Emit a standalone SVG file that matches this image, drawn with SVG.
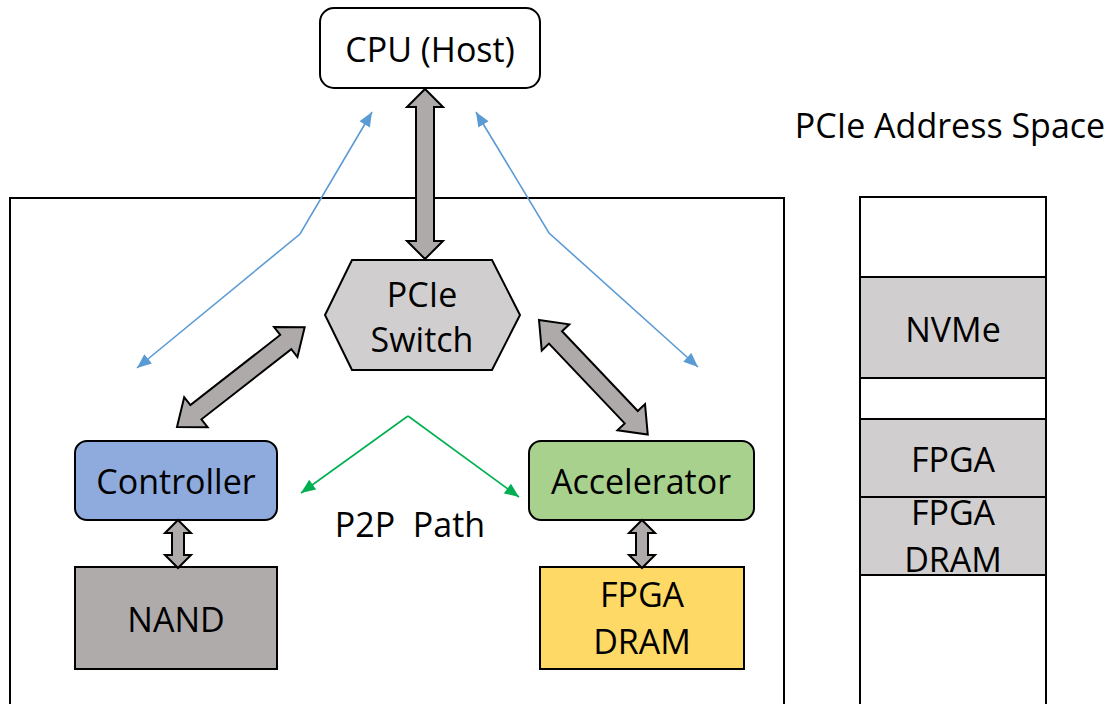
<svg xmlns="http://www.w3.org/2000/svg" width="1109" height="704" viewBox="0 0 1109 704">
<defs>
<style>
text{font-family:"Open Sans","Liberation Sans",sans-serif;font-size:34px;fill:#000;text-anchor:middle}
.bx{stroke:#000;stroke-width:2}
.th{fill:#aeaaaa;stroke:#000;stroke-width:2;stroke-linejoin:miter}
.blue{fill:none;stroke:#5b9bd5;stroke-width:1.6}
.green{fill:none;stroke:#00b050;stroke-width:1.6}
</style>
<marker id="mb" viewBox="0 0 12 10" refX="12" refY="5" markerWidth="15" markerHeight="12" markerUnits="userSpaceOnUse" orient="auto-start-reverse"><path d="M0,0L12,5L0,10z" fill="#5b9bd5"/></marker>
<marker id="mg" viewBox="0 0 12 10" refX="12" refY="5" markerWidth="15" markerHeight="12" markerUnits="userSpaceOnUse" orient="auto"><path d="M0,0L12,5L0,10z" fill="#00b050"/></marker>
</defs>
<rect width="1109" height="704" fill="#fff"/>
<g id="board"><rect x="10" y="198" width="774" height="520" fill="none" class="bx"/></g>
<g id="cpu"><rect x="320" y="8" width="220" height="80" rx="14" fill="#fff" class="bx"/><text x="430" y="62">CPU (Host)</text></g>
<g id="switch"><polygon points="352,260 492,260 520,315 492,370 352,370 325,315" fill="#d0cece" class="bx"/><text x="422" y="307">PCIe</text><text x="422" y="352">Switch</text></g>
<g id="controller"><rect x="75" y="441" width="202" height="79" rx="12" fill="#8faadc" class="bx"/><text x="176" y="494">Controller</text></g>
<g id="accelerator"><rect x="529" y="441" width="225" height="79" rx="12" fill="#a9d18e" class="bx"/><text x="641" y="494">Accelerator</text></g>
<g id="nand"><rect x="75" y="567" width="202" height="102" fill="#afabab" class="bx"/><text x="176" y="632">NAND</text></g>
<g id="fpgadram"><rect x="540" y="567" width="204" height="102" fill="#ffd966" class="bx"/><text x="642" y="607">FPGA</text><text x="642" y="654">DRAM</text></g>
<g id="addrspace">
<text x="950" y="138">PCIe Address Space</text>
<rect x="860" y="197" width="186" height="520" fill="#fff" class="bx"/>
<rect x="860" y="277" width="186" height="101" fill="#d0cece" class="bx"/><text x="953" y="342">NVMe</text>
<rect x="860" y="419" width="186" height="78" fill="#d0cece" class="bx"/><text x="953" y="472">FPGA</text>
<rect x="860" y="497" width="186" height="78" fill="#d0cece" class="bx"/><text x="953" y="525">FPGA</text><text x="953" y="572">DRAM</text>
</g>
<g id="connectors">
<polygon class="th" points="425,89 443,107 434,107 434,241 443,241 425,259 407,241 416,241 416,107 407,107"/>
<polygon class="th" transform="translate(177,427) rotate(-38)" points="0,0 24,-19 24,-9 138,-9 138,-19 162,0 138,19 138,9 24,9 24,19"/>
<polygon class="th" transform="translate(539,320) rotate(46.5)" points="0,0 24,-19 24,-9 134,-9 134,-19 158,0 134,19 134,9 24,9 24,19"/>
<polygon class="th" points="178,520 191,533 184,533 184,555 191,555 178,568 165,555 172,555 172,533 165,533"/>
<polygon class="th" points="642,520 655,533 648,533 648,555 655,555 642,568 629,555 636,555 636,533 629,533"/>
<polyline class="blue" points="372,112 300,234 137,368" marker-start="url(#mb)" marker-end="url(#mb)"/>
<polyline class="blue" points="476,112 549,233 698,367" marker-start="url(#mb)" marker-end="url(#mb)"/>
<line class="green" x1="408" y1="416" x2="301" y2="493" marker-end="url(#mg)"/>
<line class="green" x1="408" y1="416" x2="519" y2="497" marker-end="url(#mg)"/>
</g>
<text x="410" y="537" xml:space="preserve" style="white-space:pre">P2P  Path</text>
</svg>
